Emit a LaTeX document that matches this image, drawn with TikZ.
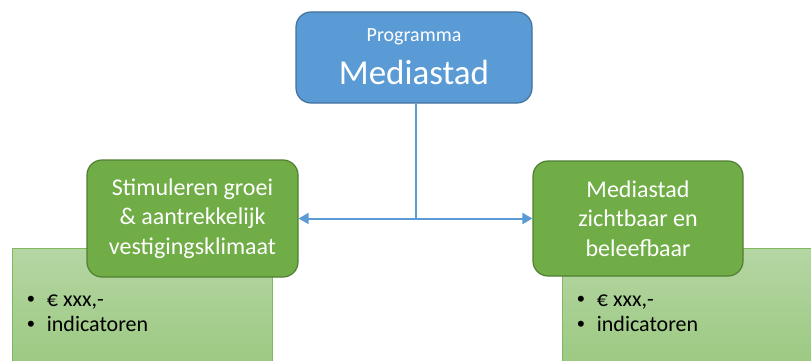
\documentclass[tikz,border=0pt]{standalone}
\usepackage{fontspec}
\setmainfont{Carlito}
\newfontfamily\bulfont{Liberation Sans}
\usetikzlibrary{arrows.meta}
\definecolor{blueF}{HTML}{5B9BD5}
\definecolor{blueD}{HTML}{41719C}
\definecolor{greenF}{HTML}{70AD47}
\definecolor{greenD}{HTML}{507E32}
\definecolor{lightT}{HTML}{B5D6A3}
\definecolor{lightB}{HTML}{9CC982}
\definecolor{lightD}{HTML}{7FB85E}
\newcommand{\mybul}{{\bulfont •}}
\tikzset{
  topbox/.style={draw=blueD, line width=1.2pt, fill=blueF, rounded corners=15pt,
    minimum width=236pt, minimum height=91pt, inner sep=0pt},
  goalbox/.style={draw=greenD, line width=1.2pt, fill=greenF, rounded corners=15pt,
    inner sep=0pt, text=white, align=center, font=\fontsize{24}{29.5}\selectfont},
  detbox/.style={draw=lightD, line width=0.8pt, top color=lightT, bottom color=lightB, inner sep=0pt},
  bullets/.style={inner sep=0pt, anchor=base west, font=\fontsize{22}{25}\selectfont, text=black},
  conn/.style={draw=blueF, line width=2pt},
  arr/.style={conn, -{Triangle[length=10pt,width=11pt]}}
}
\begin{document}
\begin{tikzpicture}[x=1pt,y=-1pt]
\useasboundingbox (0,0) rectangle (811,361);
% detail rectangles
\node[detbox, minimum width=260pt, minimum height=116pt, anchor=north west] (detL) at (12,248) {};
\node[detbox, minimum width=252pt, minimum height=116pt, anchor=north west] (detR) at (562,248) {};
\node[bullets] (bL) at (27,306.5) {\begin{tabular}[t]{@{}l@{\hspace{12pt}}l@{}}\mybul&€ xxx,-\\\mybul&indicatoren\end{tabular}};
\node[bullets] (bR) at (577,306.5) {\begin{tabular}[t]{@{}l@{\hspace{12pt}}l@{}}\mybul&€ xxx,-\\\mybul&indicatoren\end{tabular}};
% top box
\node[topbox] (top) at (414,57.5) {};
\node[text=white, font=\fontsize{20}{24}\selectfont, inner sep=0pt] (topA) at (414,37) {Programma};
\node[text=white, font=\fontsize{35}{42}\selectfont, inner sep=0pt] (topB) at (414,72) {Mediastad};
% goal boxes
\node[goalbox, minimum width=211pt, minimum height=117pt] (gL) at (192.5,218.5) {Stimuleren groei\\\&\ aantrekkelijk\\vestigingsklimaat};
\node[goalbox, minimum width=210pt, minimum height=115pt] (gR) at (638,218.5) {Mediastad\\zichtbaar en\\beleefbaar};
% connectors
\coordinate (j) at (415.5,218.5);
\draw[conn] (top.south -| j) -- (j);
\draw[arr] (j) -- (gL.east);
\draw[arr] (j) -- (gR.west);
\end{tikzpicture}
\end{document}
